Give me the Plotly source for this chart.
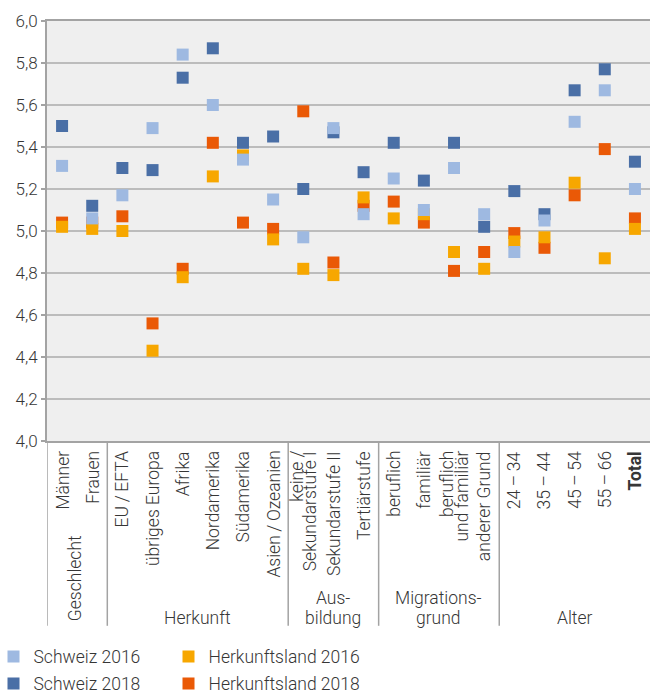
import plotly.graph_objects as go

# Categories (x axis)
categories = [
    "Männer", "Frauen",
    "EU/EFTA", "übriges Europa", "Afrika", "Nordamerika", "Südamerika", "Asien/Ozeanien",
    "keine/Sekundarstufe I", "Sekundarstufe II", "Tertiärstufe",
    "beruflich", "familiär", "beruflich und familiär", "anderer Grund",
    "24–34", "35–44", "45–54", "55–66", "Total",
]
# Displayed category labels, one list entry per text line
tick_labels = [
    ["Männer"], ["Frauen"],
    ["EU\u2009/\u2009EFTA"], ["übriges Europa"], ["Afrika"], ["Nordamerika"], ["Südamerika"],
    ["Asien\u2009/\u2009Ozeanien"],
    ["keine /", "Sekundarstufe I"], ["Sekundarstufe II"], ["Tertiärstufe"],
    ["beruflich"], ["familiär"], ["beruflich", "und familiär"], ["anderer Grund"],
    ["24\u2009–\u200934"], ["35\u2009–\u200944"], ["45\u2009–\u200954"], ["55\u2009–\u200966"],
    ["<b>Total</b>"],
]

# Series values
schweiz_2016 = [5.31, 5.06, 5.17, 5.49, 5.84, 5.60, 5.34, 5.15, 4.97, 5.49,
                5.08, 5.25, 5.10, 5.30, 5.08, 4.90, 5.05, 5.52, 5.67, 5.20]
schweiz_2018 = [5.50, 5.12, 5.30, 5.29, 5.73, 5.87, 5.42, 5.45, 5.20, 5.47,
                5.28, 5.42, 5.24, 5.42, 5.02, 5.19, 5.08, 5.67, 5.77, 5.33]
herkunft_2016 = [5.02, 5.01, 5.00, 4.43, 4.78, 5.26, 5.36, 4.96, 4.82, 4.79,
                 5.16, 5.06, 5.08, 4.90, 4.82, 4.95, 4.97, 5.23, 4.87, 5.01]
herkunft_2018 = [5.04, 5.04, 5.07, 4.56, 4.82, 5.42, 5.04, 5.01, 5.57, 4.85,
                 5.12, 5.14, 5.04, 4.81, 4.90, 4.99, 4.92, 5.17, 5.39, 5.06]

# Category groups: (label lines, first index, last index, rotated)
groups = [
    (["Geschlecht"], 0, 1, True),
    (["Herkunft"], 2, 7, False),
    (["Aus-", "bildung"], 8, 10, False),
    (["Migrations-", "grund"], 11, 14, False),
    (["Alter"], 15, 19, False),
]

FONT = "Roboto"
TEXT = "#363636"
AXIS = "#a3a3a3"
FS = 17.5

def txt(size=FS, **kw):
    return dict(family=FONT, size=size, color=TEXT, weight=300, **kw)

fig = go.Figure()

# drawing order: 2018 series first, 2016 series on top
series = [
    ("Schweiz 2018", schweiz_2018, "#4a6fa6", "legend2"),
    ("Herkunftsland 2018", herkunft_2018, "#ea5906", "legend4"),
    ("Herkunftsland 2016", herkunft_2016, "#f7a700", "legend3"),
    ("Schweiz 2016", schweiz_2016, "#9eb9e1", "legend"),
]
for name, vals, color, leg in series:
    fig.add_trace(go.Scatter(
        x=categories, y=vals, name=name, mode="markers",
        marker=dict(symbol="square", size=12, color=color, line=dict(width=0)),
        legend=leg,
    ))

n = len(categories)

# category labels, rotated, hanging below the axis
LINE_PITCH = 14
for i, lines in enumerate(tick_labels):
    k = len(lines)
    for j, line in enumerate(lines):
        fig.add_annotation(x=i, y=0, xref="x", yref="paper", text=line,
                           textangle=-90, showarrow=False, xanchor="center",
                           yanchor="top", yshift=-8,
                           xshift=(j - (k - 1) / 2) * LINE_PITCH, font=txt())

# group separators below the axis
bounds = [-0.5] + [g[1] - 0.5 for g in groups[1:]]
for b in bounds:
    fig.add_shape(type="line", xref="x", yref="paper", x0=b, x1=b, y0=0, y1=-0.44,
                  line=dict(color=AXIS, width=1.5))

# group labels
for lines, i0, i1, rotated in groups:
    xc = (i0 + i1) / 2
    if rotated:
        fig.add_annotation(x=xc, y=0, xref="x", yref="paper", text=lines[0],
                           textangle=-90, showarrow=False, xanchor="center",
                           yanchor="bottom", yshift=-182, xshift=-2, font=txt())
    else:
        k = len(lines)
        for j, line in enumerate(lines):
            center_px = 618 - (k - 1 - j) * 20
            fig.add_annotation(x=xc, y=0, xref="x", yref="paper", text=line,
                               showarrow=False, xanchor="center", yanchor="middle",
                               yshift=-(center_px - 441), font=txt())

def legend_box(left_px, center_px):
    return dict(x=(left_px - 47) / 603, y=(441 - center_px) / 420,
                xanchor="left", yanchor="middle", orientation="v",
                bgcolor="rgba(0,0,0,0)", font=txt(), itemclick=False,
                itemdoubleclick=False)

fig.update_layout(
    width=650, height=693,
    margin=dict(l=47, r=0, t=21, b=252, pad=0, autoexpand=False),
    paper_bgcolor="white",
    plot_bgcolor="#efefef",
    separators=", ",
    font=txt(),
    xaxis=dict(
        type="category", categoryorder="array", categoryarray=categories,
        range=[-0.5, n - 0.5], automargin=False,
        showticklabels=False, ticks="", showgrid=False,
        showline=True, mirror=True, linecolor=AXIS, linewidth=2,
    ),
    yaxis=dict(
        range=[4, 6], dtick=0.2, tick0=4, tickformat=".1f", automargin=False,
        showgrid=True, gridcolor="#bcbcbc", gridwidth=1.5,
        showline=True, linecolor=AXIS, linewidth=2,
        ticks="outside", ticklen=4, tickcolor=AXIS, tickwidth=2,
        zeroline=False, tickfont=txt(17),
    ),
    legend=legend_box(-6.5, 656.5),
    legend2=legend_box(-6.5, 683.5),
    legend3=legend_box(168.5, 656.5),
    legend4=legend_box(168.5, 683.5),
    showlegend=True,
)

fig.write_html("out.html")
